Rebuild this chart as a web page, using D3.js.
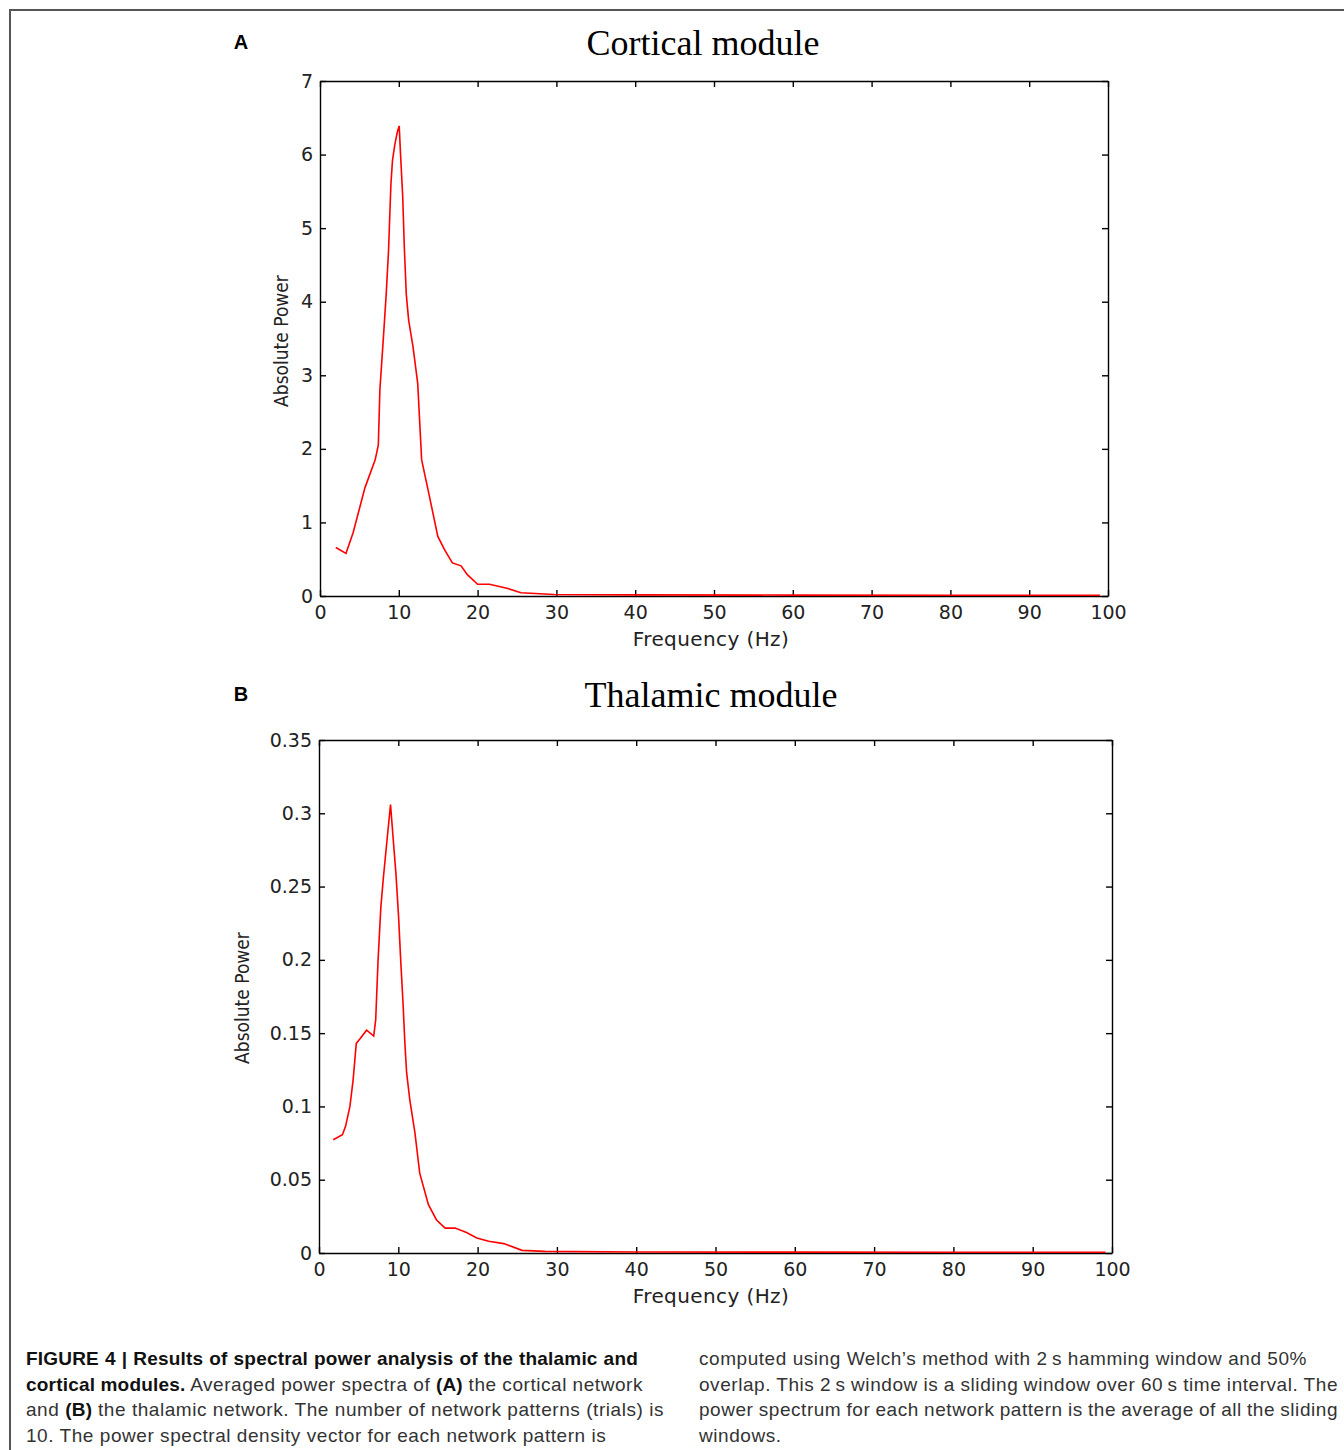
<!DOCTYPE html>
<html>
<head>
<meta charset="utf-8">
<script src="https://cdn.jsdelivr.net/npm/d3@7"></script>
<style>
  body { margin: 0; background: #fff; }
  #fig { position: relative; width: 1344px; height: 1450px; overflow: hidden; }
  #fig svg { position: absolute; left: 0; top: 0; }
  .cap { position: absolute; font-family: "Liberation Sans", Arial, sans-serif; font-size: 19px;
         letter-spacing: 0.55px; line-height: 25.5px; color: #333; }
  .cap div { white-space: nowrap; }
  .cap span.l { display: inline-block; white-space: nowrap; }
  .cap b { color: #111; letter-spacing: 0.2px; }
</style>
</head>
<body>
<div id="fig"></div>
<script>
// spectra (Hz, absolute power)
var freqCortical = [2, 3.3, 4.2, 5.7, 7.0, 7.4, 7.6, 8.1, 8.4, 8.7, 9.0, 9.2, 9.5, 9.8, 10.05, 10.2,
  10.5, 10.7, 10.95, 11.25, 11.8, 12.4, 12.9, 13.7, 14.95, 15.8, 16.8, 17.9, 18.7, 20, 21.5, 23.6,
  25.5, 29.7, 40, 60, 80, 99];
var powerCortical = [0.66, 0.58, 0.86, 1.47, 1.85, 2.05, 2.8, 3.6, 4.1, 4.7, 5.6, 5.92, 6.14, 6.3, 6.39, 6.05,
  5.42, 4.74, 4.1, 3.75, 3.39, 2.89, 1.85, 1.45, 0.81, 0.63, 0.45, 0.41, 0.29, 0.16, 0.16, 0.11,
  0.045, 0.02, 0.015, 0.012, 0.01, 0.01];

var freqThalamic = [1.8, 2.95, 3.35, 3.9, 4.3, 4.7, 5.15, 6.0, 6.9, 7.15, 7.45, 7.8, 8.1, 8.6, 9.02, 9.35,
  9.7, 10.03, 10.3, 10.6, 10.83, 11.05, 11.45, 12.1, 12.7, 13.8, 14.8, 15.9, 17.15, 18.6, 19.9, 21.4,
  23.3, 25.6, 28.5, 40, 60, 80, 99.2];
var powerThalamic = [0.0773, 0.0807, 0.0864, 0.1, 0.118, 0.143, 0.146, 0.152, 0.148, 0.159, 0.2, 0.236, 0.255, 0.283, 0.306, 0.283,
  0.259, 0.23, 0.2, 0.17, 0.143, 0.123, 0.1045, 0.082, 0.0545, 0.033, 0.0227, 0.017, 0.017, 0.014, 0.0102, 0.008,
  0.0064, 0.0018, 0.0011, 0.0007, 0.0006, 0.0005, 0.0005];

var xTicks = [0, 10, 20, 30, 40, 50, 60, 70, 80, 90, 100];
var yTicksCortical = [0, 1, 2, 3, 4, 5, 6, 7];
var yTicksThalamic = [0, 0.05, 0.1, 0.15, 0.2, 0.25, 0.3, 0.35];

var svg = d3.select("#fig").append("svg")
    .attr("width", 1344)
    .attr("height", 1450);

// outer frame (top + left edge only)
svg.append("path")
    .attr("d", "M10,1450V10H1344")
    .attr("fill", "none")
    .attr("stroke", "#555")
    .attr("stroke-width", 2);

function drawPanel(p) {
    var x = d3.scaleLinear().domain([0, 100]).range([p.left, p.right]);
    var y = d3.scaleLinear().domain([0, d3.max(p.yTicks)]).range([p.bottom, p.top]);
    var g = svg.append("g");

    var tickFont = function(sel) {
        sel.selectAll("text")
            .attr("font-family", "DejaVu Sans, sans-serif")
            .attr("font-size", 19)
            .attr("fill", "#222");
        sel.selectAll("path, line").attr("stroke", "#000").attr("stroke-width", 1.4);
    };

    g.append("g").attr("transform", "translate(0," + p.bottom + ")")
        .call(d3.axisBottom(x).tickValues(xTicks).tickSize(-6).tickSizeOuter(0).tickPadding(10))
        .call(tickFont);
    g.append("g").attr("transform", "translate(0," + p.top + ")")
        .call(d3.axisTop(x).tickValues(xTicks).tickSize(-6).tickSizeOuter(0).tickFormat(""))
        .call(tickFont);
    g.append("g").attr("transform", "translate(" + p.left + ",0)")
        .call(d3.axisLeft(y).tickValues(p.yTicks).tickSize(-6).tickSizeOuter(0).tickPadding(7)
            .tickFormat(function(d) { return String(d); }))
        .call(tickFont);
    g.append("g").attr("transform", "translate(" + p.right + ",0)")
        .call(d3.axisRight(y).tickValues(p.yTicks).tickSize(-6).tickSizeOuter(0).tickFormat(""))
        .call(tickFont);
    g.selectAll(".domain").attr("stroke", "#000");

    var line = d3.line()
        .x(function(d, i) { return x(p.freq[i]); })
        .y(function(d) { return y(d); });

    g.append("path")
        .datum(p.power)
        .attr("d", line)
        .attr("fill", "none")
        .attr("stroke", "#f00")
        .attr("stroke-width", 1.6);

    g.append("text")
        .attr("x", p.titleX).attr("y", p.titleY)
        .attr("text-anchor", "middle")
        .attr("font-family", "Liberation Serif, Times New Roman, serif")
        .attr("font-size", 36)
        .text(p.title);

    g.append("text")
        .attr("x", 241).attr("y", p.titleY - 6)
        .attr("text-anchor", "middle")
        .attr("font-family", "Liberation Sans, Arial, sans-serif")
        .attr("font-weight", "bold")
        .attr("font-size", 20)
        .text(p.letter);

    g.append("text")
        .attr("transform", "translate(" + p.ylabelX + "," + p.ylabelY + ") rotate(-90)")
        .attr("text-anchor", "middle")
        .attr("font-family", "DejaVu Sans Condensed, DejaVu Sans, sans-serif")
        .attr("font-stretch", "condensed")
        .attr("font-size", 19)
        .attr("fill", "#222")
        .text("Absolute Power");

    g.append("text")
        .attr("x", 711).attr("y", p.bottom + 50)
        .attr("text-anchor", "middle")
        .attr("font-family", "DejaVu Sans, sans-serif")
        .attr("font-size", 20)
        .attr("letter-spacing", 0.4)
        .attr("fill", "#222")
        .text("Frequency (Hz)");
}

drawPanel({
    left: 320, right: 1108, top: 81, bottom: 596,
    yTicks: yTicksCortical, freq: freqCortical, power: powerCortical,
    title: "Cortical module", titleX: 703, titleY: 55, letter: "A",
    ylabelX: 288, ylabelY: 341
});

drawPanel({
    left: 319, right: 1112, top: 740, bottom: 1253,
    yTicks: yTicksThalamic, freq: freqThalamic, power: powerThalamic,
    title: "Thalamic module", titleX: 711, titleY: 707, letter: "B",
    ylabelX: 249, ylabelY: 998
});

// caption (w = justified line width, 0 = natural width)
var capLeft = [
    { w: 612, html: "<b>FIGURE 4 | Results of spectral power analysis of the thalamic and</b>" },
    { w: 617, html: "<b>cortical modules.</b> Averaged power spectra of <b>(A)</b> the cortical network" },
    { w: 638, html: "and <b>(B)</b> the thalamic network. The number of network patterns (trials) is" },
    { w: 0, html: "10. The power spectral density vector for each network pattern is" }
];
var capRight = [
    { w: 0, html: "computed using Welch\u2019s method with 2\u2009s hamming window and 50%" },
    { w: 639, html: "overlap. This 2\u2009s window is a sliding window over 60\u2009s time interval. The" },
    { w: 639, html: "power spectrum for each network pattern is the average of all the sliding" },
    { w: 0, html: "windows." }
];

function caption(left, lines) {
    var box = d3.select("#fig").append("div")
        .attr("class", "cap")
        .style("left", left + "px")
        .style("top", "1346px");
    box.selectAll("div").data(lines).enter().append("div")
        .append("span").attr("class", "l")
        .html(function(d) { return d.html; })
        .each(function(d) {
            if (!d.w) return;
            // spread the spare room over the word gaps
            var natural = this.getBoundingClientRect().width;
            var gaps = (this.textContent.match(/ /g) || []).length;
            d3.select(this).style("word-spacing", ((d.w - natural) / gaps) + "px");
        });
}
caption(26, capLeft);
caption(699, capRight);
</script>
</body>
</html>
